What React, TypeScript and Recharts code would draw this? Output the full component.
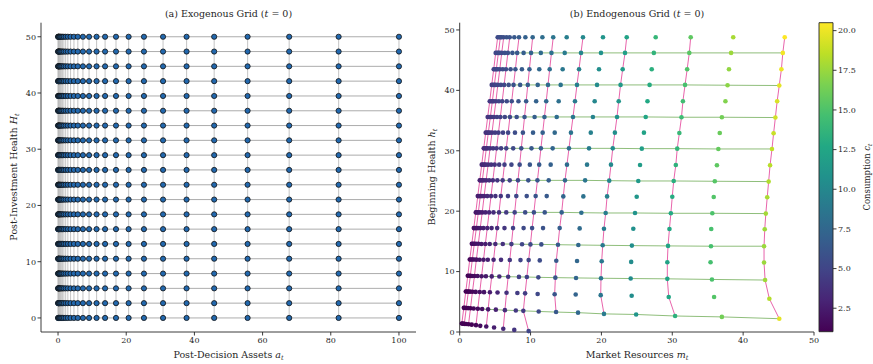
import React from "react";
import { ScatterChart, Scatter, XAxis, YAxis, ReferenceLine, ReferenceArea } from "recharts";

// (a) exogenous grid: post-decision assets x post-investment health
const A_GRID = [0, 0.08, 0.19, 0.32, 0.49, 0.7, 0.97, 1.3, 1.71, 2.23, 2.87, 3.67, 4.66, 5.8, 7.3, 9.1, 11.3, 13.8, 17.0, 20.7, 25.2, 30.8, 37.7, 45.8, 55.6, 67.8, 82.3, 100];
const H_GRID = [0, 2.63, 5.26, 7.89, 10.53, 13.16, 15.79, 18.42, 21.05, 23.68, 26.32, 28.95, 31.58, 34.21, 36.84, 39.47, 42.11, 44.74, 47.37, 50];

// (b) endogenous grid, one row per health node (top to bottom), one entry per asset node
const ENDO_M = [
  [5.36, 5.55, 5.74, 5.93, 6.21, 6.63, 7.06, 7.71, 8.37, 9.27, 10.3, 11.67, 13.2, 15.1, 17.4, 20.22, 23.57, 27.66, 32.6, 38.6, 45.87],
  [5.08, 5.27, 5.46, 5.65, 5.93, 6.36, 6.8, 7.44, 8.11, 9.02, 10.07, 11.45, 12.95, 14.82, 17.12, 19.94, 23.33, 27.4, 32.4, 38.3, 45.6],
  [4.8, 4.98, 5.17, 5.37, 5.66, 6.08, 6.53, 7.18, 7.86, 8.78, 9.84, 11.23, 12.7, 14.53, 16.84, 19.66, 23.0, 27.1, 32.1, 38.0, 45.4],
  [4.52, 4.7, 4.89, 5.09, 5.38, 5.81, 6.27, 6.91, 7.6, 8.53, 9.61, 11.01, 12.46, 14.25, 16.55, 19.38, 22.7, 26.8, 31.8, 37.8, 45.1],
  [4.24, 4.42, 4.61, 4.81, 5.11, 5.53, 6.0, 6.64, 7.34, 8.29, 9.38, 10.79, 12.21, 13.97, 16.27, 19.05, 22.44, 26.5, 31.5, 37.5, 44.8],
  [3.95, 4.13, 4.33, 4.53, 4.83, 5.26, 5.74, 6.37, 7.09, 8.04, 9.15, 10.57, 11.96, 13.69, 15.99, 18.8, 22.2, 26.25, 31.3, 37.0, 44.55],
  [3.67, 3.85, 4.04, 4.25, 4.56, 4.99, 5.47, 6.11, 6.83, 7.8, 8.92, 10.35, 11.71, 13.41, 15.7, 18.5, 21.9, 26.0, 31.0, 36.7, 44.3],
  [3.39, 3.57, 3.76, 3.97, 4.28, 4.71, 5.21, 5.84, 6.57, 7.55, 8.69, 10.13, 11.46, 13.12, 15.42, 18.25, 21.6, 25.7, 30.7, 36.5, 44.07],
  [3.11, 3.28, 3.48, 3.69, 4.01, 4.44, 4.94, 5.57, 6.32, 7.3, 8.46, 9.9, 11.22, 12.84, 15.14, 17.97, 21.35, 25.45, 30.5, 36.3, 43.8],
  [2.83, 3.0, 3.19, 3.42, 3.73, 4.16, 4.68, 5.31, 6.06, 7.06, 8.22, 9.68, 10.97, 12.56, 14.86, 17.7, 21.1, 25.2, 30.2, 36.0, 43.6],
  [2.55, 2.72, 2.91, 3.14, 3.45, 3.89, 4.42, 5.04, 5.8, 6.81, 7.99, 9.46, 10.72, 12.28, 14.62, 17.45, 20.8, 24.98, 30.0, 35.85, 43.4],
  [2.27, 2.43, 2.63, 2.86, 3.18, 3.62, 4.15, 4.77, 5.55, 6.57, 7.76, 9.24, 10.47, 12.0, 14.39, 17.17, 20.6, 24.74, 29.8, 35.65, 43.2],
  [1.99, 2.15, 2.35, 2.58, 2.9, 3.34, 3.89, 4.5, 5.29, 6.32, 7.53, 9.02, 10.22, 11.76, 14.11, 16.93, 20.36, 24.5, 29.6, 35.5, 43.05],
  [1.71, 1.87, 2.06, 2.3, 2.63, 3.07, 3.62, 4.24, 5.03, 6.08, 7.3, 8.8, 9.98, 11.52, 13.87, 16.74, 20.18, 24.3, 29.4, 35.46, 42.95],
  [1.42, 1.58, 1.78, 2.02, 2.35, 2.8, 3.36, 3.97, 4.78, 5.83, 7.07, 8.58, 9.73, 11.3, 13.63, 16.56, 20.04, 24.2, 29.3, 35.4, 42.95],
  [1.14, 1.3, 1.5, 1.74, 2.08, 2.52, 3.09, 3.7, 4.52, 5.59, 6.84, 8.36, 9.48, 11.1, 13.5, 16.42, 19.94, 24.13, 29.3, 35.6, 43.1],
  [0.86, 1.02, 1.22, 1.46, 1.8, 2.25, 2.83, 3.43, 4.26, 5.34, 6.61, 8.14, 9.23, 11.0, 13.4, 16.37, 19.9, 24.27, 29.5, 35.9, 43.7],
  [0.58, 0.73, 0.93, 1.18, 1.52, 1.97, 2.56, 3.17, 4.01, 5.1, 6.38, 7.92, 8.98, 11.15, 13.6, 16.7, 20.36, 24.9, 30.4, 37.0, 45.1],
  [0.3, 0.45, 0.65, 0.9, 1.25, 1.7, 2.3, 2.9, 3.75, 4.85, 6.15, 7.7, 9.73],
];

const ENDO_H = [
  [48.8, 48.8, 48.8, 48.8, 48.8, 48.8, 48.8, 48.8, 48.8, 48.8, 48.8, 48.8, 48.8, 48.8, 48.8, 48.8, 48.8, 48.8, 48.8, 48.8, 48.8],
  [46.2, 46.2, 46.2, 46.2, 46.2, 46.2, 46.2, 46.2, 46.2, 46.2, 46.2, 46.2, 46.2, 46.2, 46.2, 46.2, 46.2, 46.2, 46.2, 46.2, 46.2],
  [43.5, 43.5, 43.5, 43.5, 43.5, 43.5, 43.5, 43.5, 43.5, 43.5, 43.5, 43.5, 43.5, 43.5, 43.5, 43.5, 43.5, 43.5, 43.5, 43.5, 43.5],
  [40.9, 40.9, 40.9, 40.9, 40.9, 40.9, 40.9, 40.9, 40.9, 40.9, 40.9, 40.9, 40.9, 40.9, 40.9, 40.9, 40.9, 40.9, 40.9, 40.85, 40.8],
  [38.2, 38.2, 38.2, 38.2, 38.2, 38.2, 38.2, 38.2, 38.2, 38.2, 38.2, 38.2, 38.2, 38.2, 38.2, 38.2, 38.2, 38.2, 38.2, 38.2, 38.2],
  [35.6, 35.6, 35.6, 35.6, 35.6, 35.6, 35.6, 35.6, 35.6, 35.6, 35.6, 35.6, 35.6, 35.6, 35.6, 35.6, 35.6, 35.6, 35.55, 35.55, 35.5],
  [33.0, 33.0, 33.0, 33.0, 33.0, 33.0, 33.0, 33.0, 33.0, 33.0, 33.0, 33.0, 33.0, 33.0, 33.0, 33.0, 33.0, 33.0, 32.95, 32.95, 32.9],
  [30.4, 30.4, 30.4, 30.4, 30.4, 30.4, 30.4, 30.4, 30.4, 30.4, 30.4, 30.4, 30.4, 30.4, 30.4, 30.4, 30.4, 30.35, 30.35, 30.3, 30.3],
  [27.7, 27.7, 27.7, 27.7, 27.7, 27.7, 27.7, 27.7, 27.7, 27.7, 27.7, 27.7, 27.7, 27.7, 27.7, 27.7, 27.7, 27.65, 27.65, 27.6, 27.6],
  [25.1, 25.1, 25.1, 25.1, 25.1, 25.1, 25.1, 25.1, 25.1, 25.1, 25.1, 25.1, 25.1, 25.1, 25.1, 25.1, 25.05, 25.0, 25.0, 24.95, 24.9],
  [22.5, 22.5, 22.5, 22.5, 22.5, 22.5, 22.5, 22.5, 22.5, 22.5, 22.5, 22.5, 22.5, 22.5, 22.45, 22.45, 22.45, 22.4, 22.4, 22.35, 22.3],
  [19.8, 19.8, 19.8, 19.8, 19.8, 19.8, 19.8, 19.8, 19.8, 19.8, 19.8, 19.8, 19.8, 19.8, 19.8, 19.75, 19.7, 19.7, 19.65, 19.65, 19.6],
  [17.2, 17.2, 17.2, 17.2, 17.2, 17.2, 17.2, 17.2, 17.2, 17.2, 17.2, 17.2, 17.2, 17.2, 17.2, 17.15, 17.1, 17.1, 17.05, 17.05, 17.0],
  [14.6, 14.6, 14.6, 14.6, 14.6, 14.57, 14.57, 14.57, 14.57, 14.57, 14.55, 14.53, 14.5, 14.5, 14.45, 14.4, 14.35, 14.3, 14.25, 14.2, 14.2],
  [12.0, 12.0, 12.0, 12.0, 11.98, 11.97, 11.96, 11.96, 11.95, 11.94, 11.92, 11.9, 11.9, 11.85, 11.8, 11.75, 11.7, 11.6, 11.55, 11.55, 11.5],
  [9.3, 9.3, 9.29, 9.28, 9.27, 9.26, 9.24, 9.22, 9.2, 9.18, 9.15, 9.12, 9.1, 9.05, 9.0, 8.95, 8.9, 8.85, 8.8, 8.7, 8.6],
  [6.7, 6.7, 6.69, 6.68, 6.66, 6.64, 6.62, 6.6, 6.58, 6.55, 6.5, 6.45, 6.4, 6.3, 6.25, 6.2, 6.1, 6.0, 5.8, 5.8, 5.5],
  [4.0, 3.99, 3.98, 3.96, 3.93, 3.9, 3.85, 3.8, 3.75, 3.7, 3.62, 3.55, 3.5, 3.4, 3.3, 3.2, 3.0, 2.9, 2.65, 2.5, 2.2],
  [1.4, 1.38, 1.35, 1.32, 1.28, 1.22, 1.13, 1.02, 0.9, 0.75, 0.55, 0.35, 0.15],
];

const ENDO_C = [
  [5.36, 5.47, 5.55, 5.61, 5.72, 5.93, 6.09, 6.41, 6.66, 7.04, 7.43, 8.0, 8.54, 9.3, 10.1, 11.12, 12.27, 13.86, 15.6, 17.9, 20.47],
  [5.08, 5.19, 5.27, 5.33, 5.44, 5.66, 5.83, 6.14, 6.4, 6.79, 7.2, 7.78, 8.29, 9.02, 9.82, 10.84, 12.03, 13.6, 15.4, 17.6, 20.2],
  [4.8, 4.9, 4.98, 5.05, 5.17, 5.38, 5.56, 5.88, 6.15, 6.55, 6.97, 7.56, 8.04, 8.73, 9.54, 10.56, 11.7, 13.3, 15.1, 17.3, 20.0],
  [4.52, 4.62, 4.7, 4.77, 4.89, 5.11, 5.3, 5.61, 5.89, 6.3, 6.74, 7.34, 7.8, 8.45, 9.25, 10.28, 11.4, 13.0, 14.8, 17.1, 19.7],
  [4.24, 4.34, 4.42, 4.49, 4.62, 4.83, 5.03, 5.34, 5.63, 6.06, 6.51, 7.12, 7.55, 8.17, 8.97, 9.95, 11.14, 12.7, 14.5, 16.8, 19.4],
  [3.95, 4.05, 4.14, 4.21, 4.34, 4.56, 4.77, 5.07, 5.38, 5.81, 6.28, 6.9, 7.3, 7.89, 8.69, 9.7, 10.9, 12.45, 14.3, 16.3, 19.15],
  [3.67, 3.77, 3.85, 3.93, 4.07, 4.29, 4.5, 4.81, 5.12, 5.57, 6.05, 6.68, 7.05, 7.61, 8.4, 9.4, 10.6, 12.2, 14.0, 16.0, 18.9],
  [3.39, 3.49, 3.57, 3.65, 3.79, 4.01, 4.24, 4.54, 4.86, 5.32, 5.82, 6.46, 6.8, 7.32, 8.12, 9.15, 10.3, 11.9, 13.7, 15.8, 18.67],
  [3.11, 3.2, 3.29, 3.37, 3.52, 3.74, 3.97, 4.27, 4.61, 5.07, 5.59, 6.23, 6.56, 7.04, 7.84, 8.87, 10.05, 11.65, 13.5, 15.6, 18.4],
  [2.83, 2.92, 3.0, 3.1, 3.24, 3.46, 3.71, 4.01, 4.35, 4.83, 5.35, 6.01, 6.31, 6.76, 7.56, 8.6, 9.8, 11.4, 13.2, 15.3, 18.2],
  [2.55, 2.64, 2.72, 2.82, 2.96, 3.19, 3.45, 3.74, 4.09, 4.58, 5.12, 5.79, 6.06, 6.48, 7.32, 8.35, 9.5, 11.18, 13.0, 15.15, 18.0],
  [2.27, 2.35, 2.44, 2.54, 2.69, 2.92, 3.18, 3.47, 3.84, 4.34, 4.89, 5.57, 5.81, 6.2, 7.09, 8.07, 9.3, 10.94, 12.8, 14.95, 17.8],
  [1.99, 2.07, 2.16, 2.26, 2.41, 2.64, 2.92, 3.2, 3.58, 4.09, 4.66, 5.35, 5.56, 5.96, 6.81, 7.83, 9.06, 10.7, 12.6, 14.8, 17.65],
  [1.71, 1.79, 1.87, 1.98, 2.14, 2.37, 2.65, 2.94, 3.32, 3.85, 4.43, 5.13, 5.32, 5.72, 6.57, 7.64, 8.88, 10.5, 12.4, 14.76, 17.55],
  [1.42, 1.5, 1.59, 1.7, 1.86, 2.1, 2.39, 2.67, 3.07, 3.6, 4.2, 4.91, 5.07, 5.5, 6.33, 7.46, 8.74, 10.4, 12.3, 14.7, 17.55],
  [1.14, 1.22, 1.31, 1.42, 1.59, 1.82, 2.12, 2.4, 2.81, 3.36, 3.97, 4.69, 4.82, 5.3, 6.2, 7.32, 8.64, 10.33, 12.3, 14.9, 17.7],
  [1.0, 1.0, 1.03, 1.14, 1.31, 1.55, 1.86, 2.13, 2.55, 3.11, 3.74, 4.47, 4.57, 5.2, 6.1, 7.27, 8.6, 10.47, 12.5, 15.2, 18.3],
  [1.0, 1.0, 1.0, 1.0, 1.03, 1.27, 1.59, 1.87, 2.3, 2.87, 3.51, 4.25, 4.32, 5.35, 6.3, 7.6, 9.06, 11.1, 13.4, 16.3, 19.7],
  [1.0, 1.0, 1.0, 1.0, 1.0, 1.0, 1.33, 1.6, 2.04, 2.62, 3.28, 4.03, 5.07],
];

const A_TICKS = [0, 20, 40, 60, 80, 100];
const H_TICKS = [0, 10, 20, 30, 40, 50];
const M_TICKS = [0, 10, 20, 30, 40, 50];
const CBAR_TICKS = [2.5, 5, 7.5, 10, 12.5, 15, 17.5, 20];

const C_MIN = 1.02;
const C_MAX = 20.5;

const FONT = "'DejaVu Serif', serif";
const INK = "#262626";

const VIRIDIS = ["#440154", "#482475", "#414487", "#355f8d", "#2a788e", "#21918c", "#22a884", "#44bf70", "#7ad151", "#bddf26", "#fde725"];

function hexRgb(h: string) {
  return [parseInt(h.slice(1, 3), 16), parseInt(h.slice(3, 5), 16), parseInt(h.slice(5, 7), 16)];
}

function viridis(v: number) {
  const t = Math.max(0, Math.min(1, (v - C_MIN) / (C_MAX - C_MIN)));
  const p = t * (VIRIDIS.length - 1);
  const i = Math.min(Math.floor(p), VIRIDIS.length - 2);
  const f = p - i;
  const a = hexRgb(VIRIDIS[i]);
  const b = hexRgb(VIRIDIS[i + 1]);
  const c = a.map((x, k) => Math.round(x + (b[k] - x) * f));
  return `rgb(${c[0]},${c[1]},${c[2]})`;
}

const exoPoints = H_GRID.flatMap((h) => A_GRID.map((a) => ({ x: a, y: h })));

const endoPoints = ENDO_M.flatMap((row, i) =>
  row.map((m, j) => ({ x: m, y: ENDO_H[i][j], c: ENDO_C[i][j] }))
);

// every other asset node gets a magenta curve, every other health row a green one
const magentaCols = ENDO_M[0]
  .map((_, j) => j)
  .filter((j) => j % 2 === 0)
  .map((j) =>
    ENDO_M.map((row, i) => ({ row, i }))
      .filter(({ row }) => j < row.length)
      .map(({ row, i }) => ({ x: row[j], y: ENDO_H[i][j] }))
  );

const greenRows = ENDO_M.map((row, i) => ({ row, i }))
  .filter(({ i }) => i % 2 === 1)
  .map(({ row, i }) => row.map((m, j) => ({ x: m, y: ENDO_H[i][j] })));

// colorbar tick anchors (invisible), so the little chart has data for its axes
const cbarAnchors = CBAR_TICKS.map((v) => ({ x: 0.5, y: v }));

const tickStyle = { fontSize: 8, fill: INK, fontFamily: FONT };
const axisLine = { stroke: INK, strokeWidth: 0.9 };

const Hidden = () => <g />;

function ExoDot(props: any) {
  return <circle cx={props.cx} cy={props.cy} r={2.6} fill="#2268ae" stroke="#111" strokeWidth={0.8} />;
}

function EndoDot(props: any) {
  return <circle cx={props.cx} cy={props.cy} r={2.3} fill={viridis(props.payload.c)} />;
}

export default function App() {
  return (
    <div style={{ position: "fixed", left: 0, top: 0, width: 873, height: 364, background: "#fff" }}>
      <svg width={0} height={0} style={{ position: "absolute" }}>
        <defs>
          <linearGradient id="viridisGrad" x1="0" y1="1" x2="0" y2="0">
            {VIRIDIS.map((c, k) => (
              <stop key={k} offset={`${(k / (VIRIDIS.length - 1)) * 100}%`} stopColor={c} />
            ))}
          </linearGradient>
        </defs>
      </svg>

      <div style={{ position: "absolute", left: 0, top: 0 }}>
        <ScatterChart width={420} height={364} margin={{ top: 22.7, right: 4, bottom: 0, left: 0 }}>
          <XAxis type="number" dataKey="x" domain={[-5, 105]} ticks={A_TICKS} height={32}
            tick={tickStyle} tickLine={axisLine} axisLine={axisLine} tickSize={3.5} tickMargin={1.5} />
          <YAxis type="number" dataKey="y" domain={[-2.5, 52.5]} ticks={H_TICKS} width={41}
            tick={tickStyle} tickLine={axisLine} axisLine={axisLine} tickSize={3.5} tickMargin={1.5} />
          {A_GRID.map((a, k) => (
            <ReferenceLine key={"v" + k} segment={[{ x: a, y: 0 }, { x: a, y: 50 }]}
              stroke="#b8b8b8" strokeOpacity={0.75} strokeWidth={1.1} />
          ))}
          {H_GRID.map((h, k) => (
            <ReferenceLine key={"h" + k} segment={[{ x: 0, y: h }, { x: 100, y: h }]}
              stroke="#8c8c8c" strokeOpacity={0.8} strokeWidth={0.9} />
          ))}
          <Scatter data={exoPoints} shape={ExoDot} isAnimationActive={false} />
        </ScatterChart>
      </div>

      <div style={{ position: "absolute", left: 420, top: 0 }}>
        <ScatterChart width={400} height={364} margin={{ top: 22.7, right: 6, bottom: 0, left: 0 }}>
          <XAxis type="number" dataKey="x" domain={[0, 50]} ticks={M_TICKS} height={32}
            tick={tickStyle} tickLine={axisLine} axisLine={axisLine} tickSize={3.5} tickMargin={1.5} />
          <YAxis type="number" dataKey="y" domain={[0, 51.2]} ticks={H_TICKS} width={39.7}
            tick={tickStyle} tickLine={axisLine} axisLine={axisLine} tickSize={3.5} tickMargin={1.5} />
          {greenRows.map((d, k) => (
            <Scatter key={"g" + k} data={d} shape={Hidden} isAnimationActive={false}
              line={{ stroke: "#6aa84f", strokeWidth: 1, strokeOpacity: 0.75 }} />
          ))}
          {magentaCols.map((d, k) => (
            <Scatter key={"m" + k} data={d} shape={Hidden} isAnimationActive={false}
              line={{ stroke: "#e0308f", strokeWidth: 1, strokeOpacity: 0.75 }} />
          ))}
          <Scatter data={endoPoints} shape={EndoDot} isAnimationActive={false} />
        </ScatterChart>
      </div>

      <div style={{ position: "absolute", left: 800, top: 0 }}>
        <ScatterChart width={73} height={364} margin={{ top: 22.7, right: 0, bottom: 32.3, left: 19 }}>
          <XAxis type="number" dataKey="x" domain={[0, 1]} hide />
          <YAxis type="number" dataKey="y" orientation="right" domain={[C_MIN, C_MAX]} ticks={CBAR_TICKS} width={40}
            allowDataOverflow tick={tickStyle} tickLine={axisLine} axisLine={false} tickSize={3.5} tickMargin={1.5}
            tickFormatter={(v: number) => v.toFixed(1)} />
          <ReferenceArea x1={0} x2={1} y1={C_MIN} y2={C_MAX} fill="url(#viridisGrad)" fillOpacity={1}
            stroke={INK} strokeWidth={0.9} ifOverflow="visible" />
          <Scatter data={cbarAnchors} shape={Hidden} isAnimationActive={false} />
        </ScatterChart>
      </div>

      <svg width={873} height={364} style={{ position: "absolute", left: 0, top: 0, pointerEvents: "none" }}
        fontFamily={FONT} fill={INK}>
        <text x={228.5} y={16.5} fontSize={9.5} textAnchor="middle">
          (a) Exogenous Grid (<tspan fontStyle="italic">t</tspan> = 0)
        </text>
        <text x={228.5} y={358} fontSize={9.5} textAnchor="middle">
          Post-Decision Assets <tspan fontStyle="italic">a</tspan>
          <tspan fontSize={6.5} fontStyle="italic" dy={2}>t</tspan>
        </text>
        <text transform="translate(16.5,177) rotate(-90)" fontSize={9.5} textAnchor="middle">
          Post-Investment Health <tspan fontStyle="italic">H</tspan>
          <tspan fontSize={6.5} fontStyle="italic" dy={2}>t</tspan>
        </text>
        <text x={637} y={16.5} fontSize={9.5} textAnchor="middle">
          (b) Endogenous Grid (<tspan fontStyle="italic">t</tspan> = 0)
        </text>
        <text x={637} y={358} fontSize={9.5} textAnchor="middle">
          Market Resources <tspan fontStyle="italic">m</tspan>
          <tspan fontSize={6.5} fontStyle="italic" dy={2}>t</tspan>
        </text>
        <text transform="translate(435,177) rotate(-90)" fontSize={9.5} textAnchor="middle">
          Beginning Health <tspan fontStyle="italic">h</tspan>
          <tspan fontSize={6.5} fontStyle="italic" dy={2}>t</tspan>
        </text>
        <text transform="translate(869.5,177) rotate(-90)" fontSize={8.5} textAnchor="middle">
          Consumption <tspan fontStyle="italic">c</tspan>
          <tspan fontSize={6} fontStyle="italic" dy={2}>t</tspan>
        </text>
      </svg>
    </div>
  );
}
